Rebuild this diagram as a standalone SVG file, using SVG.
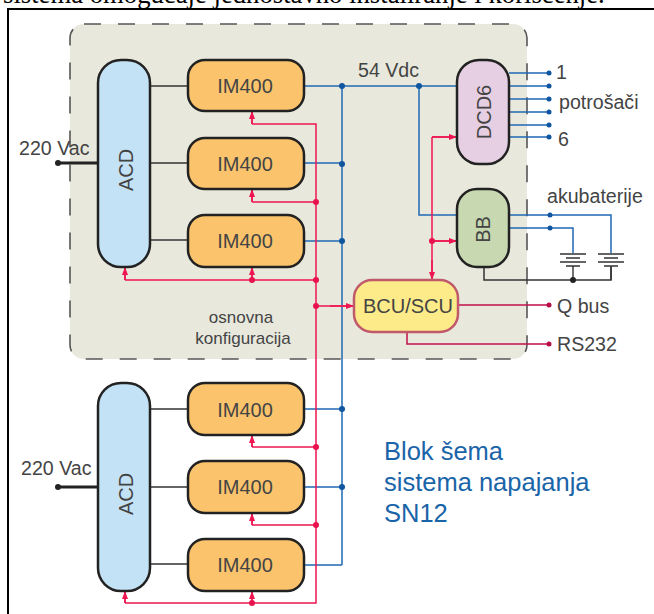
<svg xmlns="http://www.w3.org/2000/svg" width="654" height="614" viewBox="0 0 654 614">
<style>
text{font-family:"Liberation Sans",Arial,sans-serif;fill:#444}
.node{stroke:#222;stroke-width:2.5}
.im{fill:#fbc46c}.acd{fill:#c3e2f6}
.n{font-size:20px;text-anchor:middle}
.l{font-size:19.600px}
.w{fill:none;stroke-width:1.5}
.b{stroke:#1f68b4}.r{stroke:#ee1550}.k{stroke:#333}.c{stroke:#c0104a}
.bd{fill:#0f55a0}.rd{fill:#e8124e}.cd{fill:#b80e48}.kd{fill:#222}
</style>
<defs>
<marker id="a" viewBox="0 0 8 6" refX="8" refY="3" markerWidth="8" markerHeight="6.500" markerUnits="userSpaceOnUse" orient="auto"><path d="M0 0L8 3L0 6Z" fill="#ee1550"/></marker>
<g id="bat"><path d="M-13 0H13M-7 4H7M-13 8H13M-7 12H7M0 12V26" fill="none" stroke="#333" stroke-width="1.400"/></g>
</defs>
<rect width="654" height="614" fill="#fff"/>
<text x="3" y="3" style="font-family:'Liberation Serif',serif;font-size:26.700px;fill:#000">sistema omogućaje jednostavno instaliranje i korišćenje.</text>
<path d="M654 9H8V614" fill="none" stroke="#000" stroke-width="2"/>
<g id="panel">
<rect x="70" y="24" width="457" height="335" rx="14" fill="#e8e8dd"/>
<rect x="70" y="24" width="457" height="335" rx="14" fill="none" stroke="#555" stroke-width="1.600" stroke-dasharray="17 17"/>
</g>
<g id="connectors">
<path class="w k" d="M150 86H188M150 163H188M150 240H188M150 409H188M150 487H188M150 564H188M484 267V280H611V267"/>
<path d="M58 163H98M58 487H98" fill="none" stroke="#222" stroke-width="3"/>
<path class="w b" d="M304 86H457M304 163H342M304 241H342M304 409H342M304 487H342M304 565H342M342 86V565M419 86V215H457M509 73H549M509 86H549M509 99H549M509 112H549M509 125H549M509 137H549M509 215H611V253M509 228H573V253"/>
<path class="w r" d="M252 124H316V603H125M252 124V112M252 202H316M252 202V190M252 280H316M125 280H316M252 280V268M125 280V268M252 447H316M252 447V436M252 525H316M252 525V514M252 603V592M125 603V592M432 137V280M432 137H457M316 306H354M432 241H457"/>
<g class="w r">
<path d="M252 124V111" marker-end="url(#a)"/><path d="M252 202V189" marker-end="url(#a)"/><path d="M252 280V267" marker-end="url(#a)"/><path d="M125 280V267" marker-end="url(#a)"/>
<path d="M252 447V435" marker-end="url(#a)"/><path d="M252 525V513" marker-end="url(#a)"/><path d="M252 603V591" marker-end="url(#a)"/><path d="M125 603V591" marker-end="url(#a)"/>
<path d="M432 137H457" marker-end="url(#a)"/><path d="M432 241H457" marker-end="url(#a)"/><path d="M432 260V280" marker-end="url(#a)"/><path d="M330 306H354" marker-end="url(#a)"/>
</g>
<path class="w c" d="M458 305H549M407 332V344H549"/>
<use href="#bat" x="573" y="254"/><use href="#bat" x="611" y="254"/>
<g class="bd"><circle cx="342" cy="86" r="3"/><circle cx="419" cy="86" r="3"/><circle cx="342" cy="164" r="3"/><circle cx="342" cy="241" r="3"/><circle cx="342" cy="409" r="3"/><circle cx="342" cy="487" r="3"/><circle cx="549" cy="73" r="2.500"/><circle cx="549" cy="86" r="2.500"/><circle cx="549" cy="99" r="2.500"/><circle cx="549" cy="112" r="2.500"/><circle cx="549" cy="125" r="2.500"/><circle cx="549" cy="137" r="2.500"/><circle cx="550" cy="215" r="2.500"/><circle cx="550" cy="228" r="2.500"/></g>
<g class="rd"><circle cx="316" cy="202" r="3"/><circle cx="252" cy="280" r="3"/><circle cx="316" cy="280" r="3"/><circle cx="316" cy="306" r="3"/><circle cx="316" cy="447" r="3"/><circle cx="316" cy="525" r="3"/><circle cx="252" cy="603" r="3"/><circle cx="432" cy="241" r="3"/></g>
<g class="cd"><circle cx="549" cy="305" r="2.500"/><circle cx="549" cy="344" r="2.500"/></g>
<g class="kd"><circle cx="58" cy="163" r="3"/><circle cx="58" cy="487" r="3"/><circle cx="573" cy="280" r="3"/></g>
</g>
<g id="acd1"><rect class="node acd" x="98" y="60" width="52" height="207" rx="23"/><text class="n" transform="translate(133 170) rotate(-90)">ACD</text></g>
<g id="im1"><rect class="node im" x="188" y="60" width="116" height="51" rx="17"/><text class="n" x="245" y="93">IM400</text></g>
<g id="im2"><rect class="node im" x="188" y="138" width="116" height="51" rx="17"/><text class="n" x="245" y="171">IM400</text></g>
<g id="im3"><rect class="node im" x="188" y="215" width="116" height="52" rx="17"/><text class="n" x="245" y="248">IM400</text></g>
<g id="acd2"><rect class="node acd" x="98" y="383" width="52" height="208" rx="23"/><text class="n" transform="translate(133 494) rotate(-90)">ACD</text></g>
<g id="im4"><rect class="node im" x="188" y="383" width="116" height="52" rx="17"/><text class="n" x="245" y="417">IM400</text></g>
<g id="im5"><rect class="node im" x="188" y="461" width="116" height="52" rx="17"/><text class="n" x="245" y="494">IM400</text></g>
<g id="im6"><rect class="node im" x="188" y="539" width="116" height="52" rx="17"/><text class="n" x="245" y="572">IM400</text></g>
<g id="dcd6"><rect class="node" fill="#e6cfe2" x="457" y="60" width="52" height="104" rx="22"/><text class="n" transform="translate(491 112) rotate(-90)">DCD6</text></g>
<g id="bb"><rect class="node" fill="#c8d8b0" x="457" y="189" width="52" height="78" rx="20"/><text class="n" transform="translate(490 229.500) rotate(-90)">BB</text></g>
<g id="bcu"><rect x="354" y="280" width="104" height="52" rx="18" fill="#fdeb8a" stroke="#c05a6a" stroke-width="2.500"/><text class="n" x="408" y="313">BCU/SCU</text></g>
<g id="labels">
<text class="l" x="19" y="155">220 Vac</text>
<text class="l" x="21" y="475">220 Vac</text>
<text class="l" x="358" y="77">54 Vdc</text>
<text class="l" x="556" y="79">1</text>
<text class="l" x="559" y="109">potrošači</text>
<text class="l" x="558" y="146">6</text>
<text class="l" x="547" y="203">akubaterije</text>
<text class="l" x="557" y="313">Q bus</text>
<text class="l" x="557" y="351">RS232</text>
<text x="241" y="323" style="font-size:17px" text-anchor="middle">osnovna</text>
<text x="243" y="344" style="font-size:17px" text-anchor="middle">konfiguracija</text>
<g style="font-size:25.500px"><text x="384" y="460" style="fill:#1a64a8">Blok šema</text><text x="384" y="491" style="fill:#1a64a8">sistema napajanja</text><text x="384" y="522" style="fill:#1a64a8">SN12</text></g>
</g>
</svg>
